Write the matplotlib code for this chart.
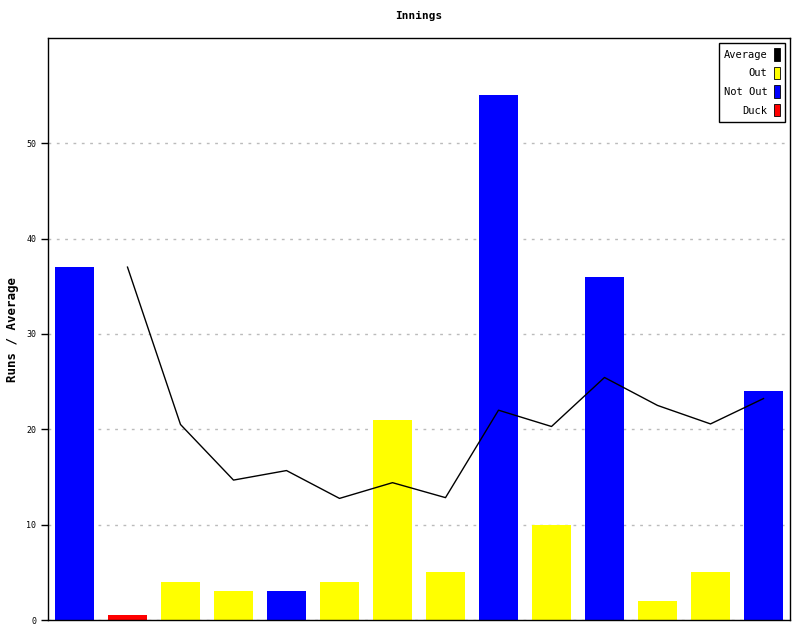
import matplotlib
matplotlib.use("Agg")
import matplotlib.pyplot as plt
from matplotlib.patches import Patch

runs = [37, 0.5, 4, 3, 3, 4, 21, 5, 55, 10, 36, 2, 5, 24]
kinds = ["Not Out", "Duck", "Out", "Out", "Not Out", "Out", "Out", "Out",
         "Not Out", "Out", "Not Out", "Out", "Out", "Not Out"]
avg_x = [1, 2, 3, 4, 5, 6, 7, 8, 9, 10, 11, 12, 13]
average = [37, 20.5, 14.67, 15.67, 12.75, 14.4, 12.83, 22, 20.29, 25.43,
           22.5, 20.56, 23.22]

colors = {"Average": "#000000", "Out": "#ffff00", "Not Out": "#0000ff",
          "Duck": "#ff0000"}

plt.rcParams["font.family"] = "DejaVu Sans Mono"

fig = plt.figure(figsize=(8, 6.4), dpi=100)
ax = fig.add_axes([0.06, 0.03125, 0.9275, 0.909])

ax.bar(range(len(runs)), runs, width=0.72,
       color=[colors[k] for k in kinds], zorder=2)
ax.plot(avg_x, average, color="black", lw=1, zorder=3)

ax.set_xlim(-0.5, len(runs) - 0.5)
ax.set_ylim(0, 61)
ax.set_yticks(range(0, 60, 10))
ax.set_xticks([])
ax.tick_params(axis="y", labelsize=6, length=5, width=1)
ax.yaxis.grid(True, linestyle=(0, (2, 4)), color="#bbbbbb", lw=1, zorder=0)
for s in ax.spines.values():
    s.set_linewidth(1)

ax.set_ylabel("Runs / Average", fontsize=9, fontweight="bold", labelpad=5)
ax.set_title("Innings", fontsize=8, fontweight="bold", pad=14)

handles = [Patch(facecolor=colors[k], edgecolor="black", lw=0.6, label=k)
           for k in ["Average", "Out", "Not Out", "Duck"]]
leg = ax.legend(handles=handles, loc="upper right", markerfirst=False,
                fontsize=7.5, handlelength=0.6, handleheight=1.45,
                handletextpad=0.6, labelspacing=0.6, fancybox=False,
                framealpha=1, edgecolor="black", borderaxespad=0.45,
                borderpad=0.5)
leg.get_frame().set_linewidth(1)

fig.savefig("out.png", dpi=100)
